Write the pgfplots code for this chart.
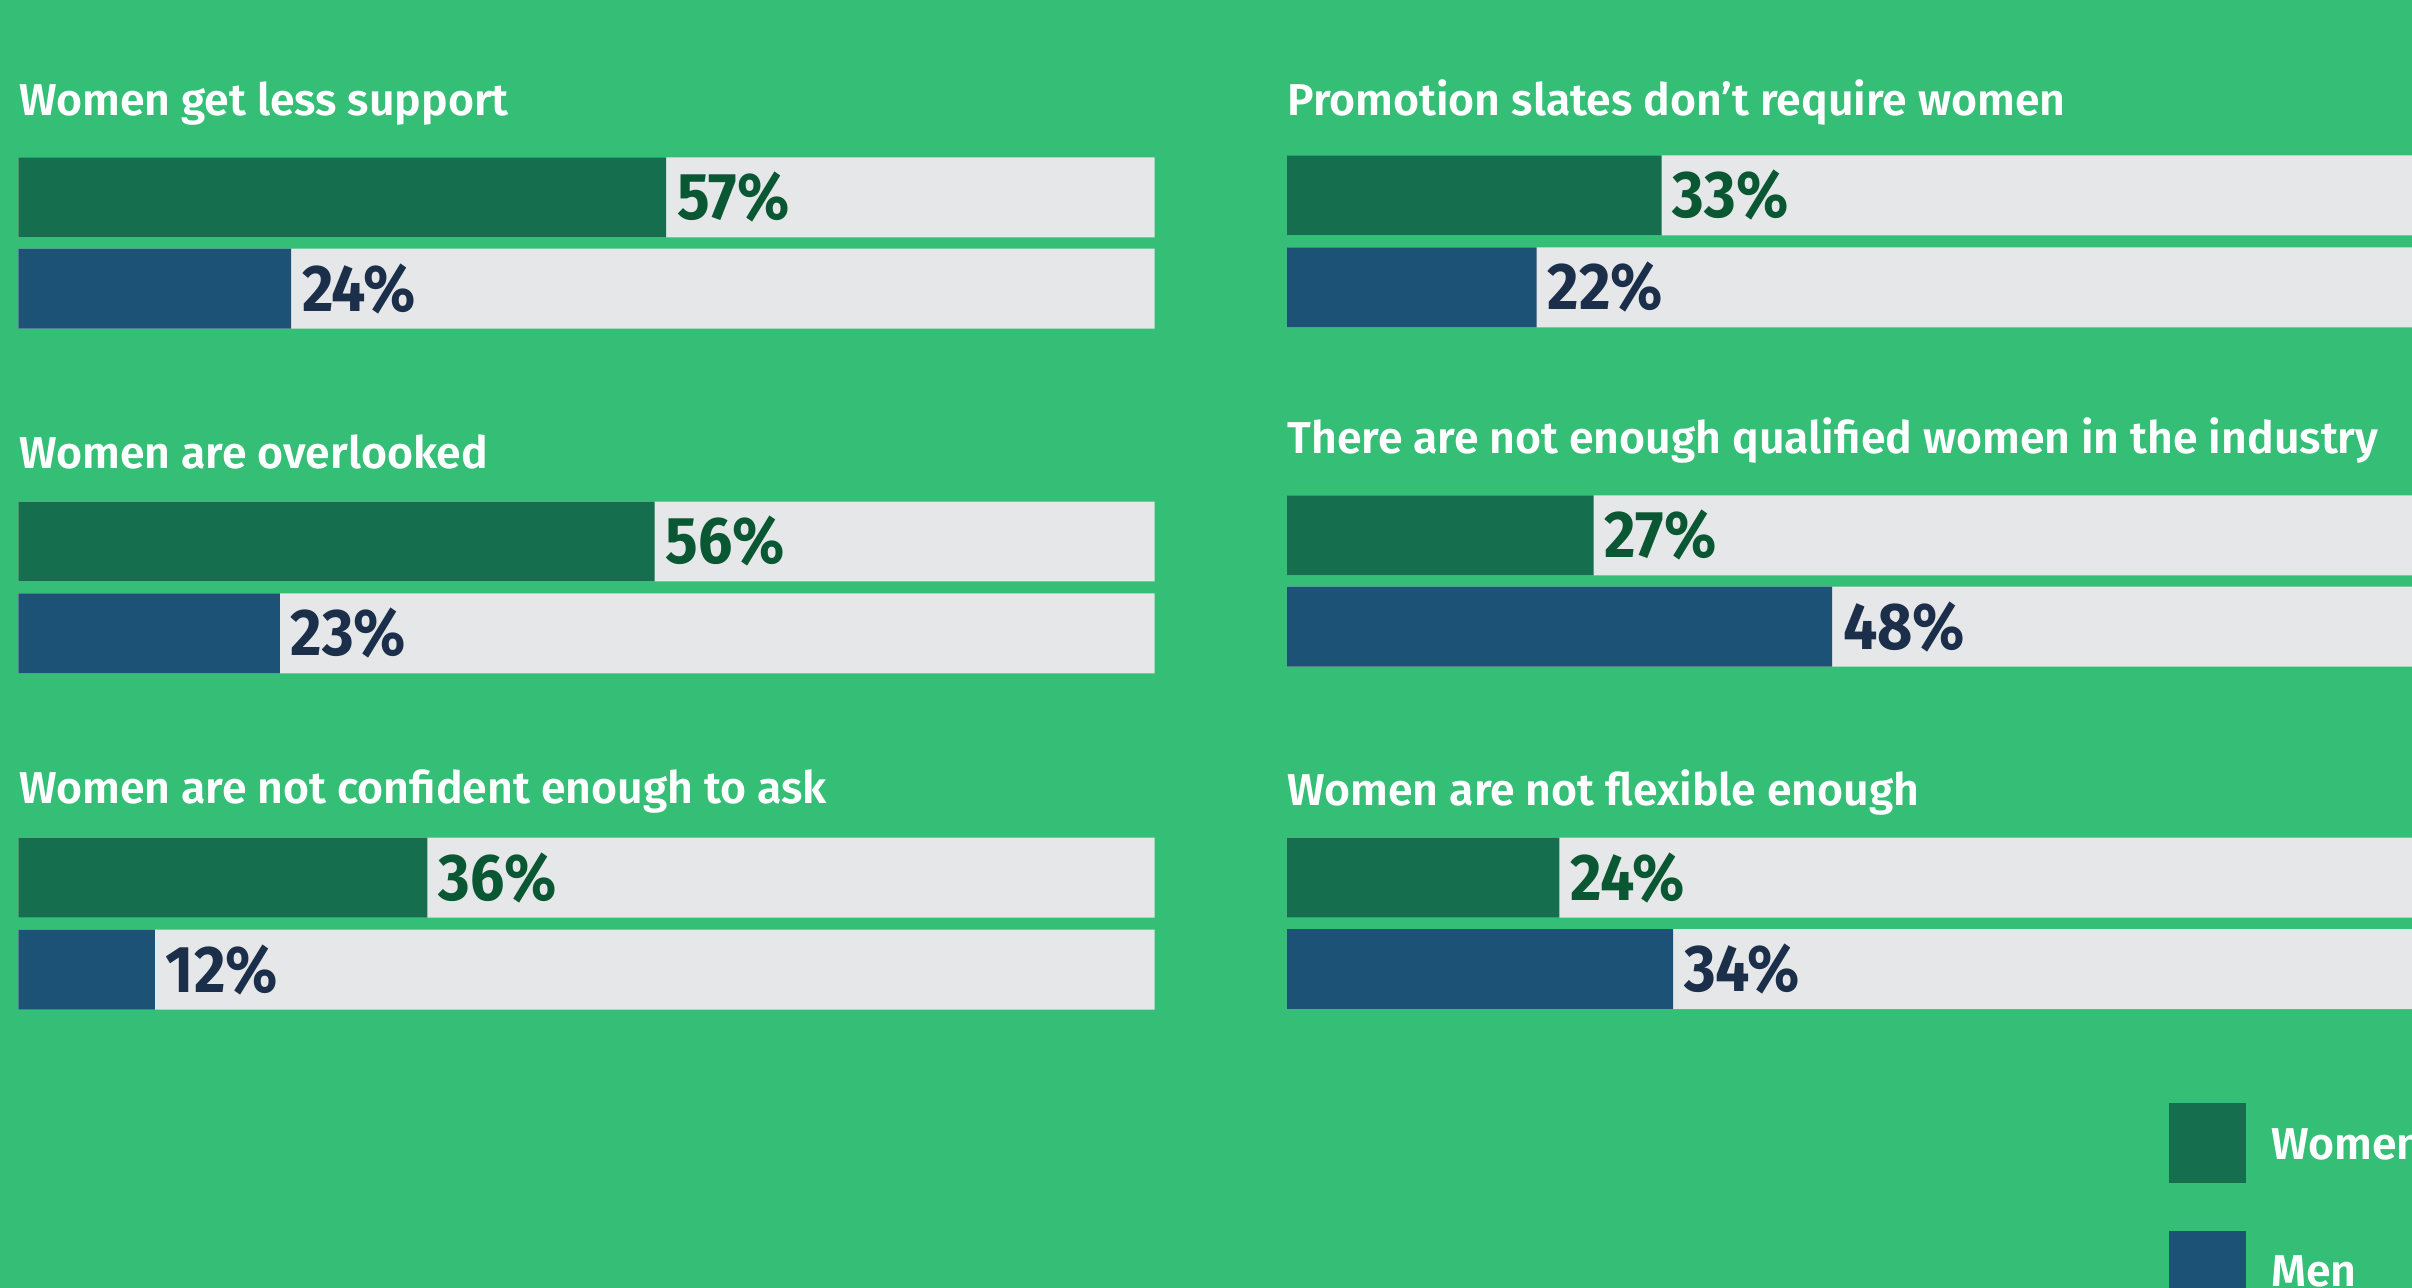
\documentclass[border=0pt]{standalone}
\usepackage{fontspec}
\setmainfont{Fira Sans}
\newfontfamily\titlefont{Fira Sans SemiBold}
\newfontfamily\pctfont{Fira Sans Bold}[FakeStretch=0.92]
\usepackage{pgfplots}
\usepackage{pgfplotstable}
\pgfplotsset{compat=1.18}

\definecolor{bg}{HTML}{34BE76}
\definecolor{track}{HTML}{E6E7E9}
\definecolor{wbar}{HTML}{156E4D}
\definecolor{mbar}{HTML}{1D5277}
\definecolor{wlab}{HTML}{0A5733}
\definecolor{mlab}{HTML}{1C2F4A}

% y = bar centre (px from top), w/m = percent
\pgfplotstableread{
yw    w   ym     m   full
128.3 57  187.6  24  100
352.0 56  411.7  23  100
570.5 36  630.3  12  100
}\leftdata
\pgfplotstableread{
yw    w   ym     m   full
127.0 33  186.8  22  100
348.0 27  407.4  48  100
570.5 24  630.0  34  100
}\rightdata

\pgfplotsset{
  panel/.style={anchor=north west, scale only axis,
    width=369.3pt, height=418.5pt,
    xmin=0, xmax=100, ymin=0, ymax=837, y dir=reverse,
    hide axis, clip=false},
  hb/.style={xbar, bar shift=0pt, bar width=52, draw=none},
  pct/.style={point meta=x,
    nodes near coords={\pgfmathprintnumber[assume math mode=true]{\pgfplotspointmeta}\%},
    nodes near coords style={anchor=west, inner sep=0pt, xshift=3.4pt,
      font=\pctfont\fontsize{21.5pt}{25pt}\selectfont, text=#1}},
}
\tikzset{ttl/.style={anchor=base west, inner sep=0pt, text=white,
  font=\titlefont\fontsize{14.5pt}{17pt}\selectfont}}

\begin{document}
\begin{tikzpicture}
\useasboundingbox (0,0) rectangle (784pt,-418.5pt);
\fill[bg] (0,0) rectangle (784pt,-418.5pt);
\clip (0,0) rectangle (784pt,-418.5pt);

\begin{axis}[panel, at={(6pt,0pt)}]
\addplot[hb, fill=track] table[x=full, y=yw] {\leftdata};
\addplot[hb, fill=track] table[x=full, y=ym] {\leftdata};
\addplot[hb, fill=wbar, pct=wlab] table[x=w, y=yw] {\leftdata};
\addplot[hb, fill=mbar, pct=mlab] table[x=m, y=ym] {\leftdata};
\node[ttl] at (axis cs:0,74.8) {Women get less support};
\node[ttl] at (axis cs:0,304.3) {Women are overlooked};
\node[ttl] at (axis cs:0,522.3) {Women are not confident enough to ask};
\end{axis}

\begin{axis}[panel, at={(418.25pt,0pt)}]
\addplot[hb, fill=track] table[x=full, y=yw] {\rightdata};
\addplot[hb, fill=track] table[x=full, y=ym] {\rightdata};
\addplot[hb, fill=wbar, pct=wlab] table[x=w, y=yw] {\rightdata};
\addplot[hb, fill=mbar, pct=mlab] table[x=m, y=ym] {\rightdata};
\node[ttl] at (axis cs:0,74.8) {Promotion slates don’t require women};
\node[ttl] at (axis cs:0,294.5) {There are not enough qualified women in the industry};
\node[ttl] at (axis cs:0,523.4) {Women are not flexible enough};
\end{axis}

% legend
\fill[wbar] (705pt,-358.5pt) rectangle (730pt,-384.5pt);
\fill[mbar] (705pt,-400pt) rectangle (730pt,-426pt);
\node[ttl] at (738pt,-376.8pt) {Women};
\node[ttl] at (738pt,-418.3pt) {Men};
\end{tikzpicture}
\end{document}
